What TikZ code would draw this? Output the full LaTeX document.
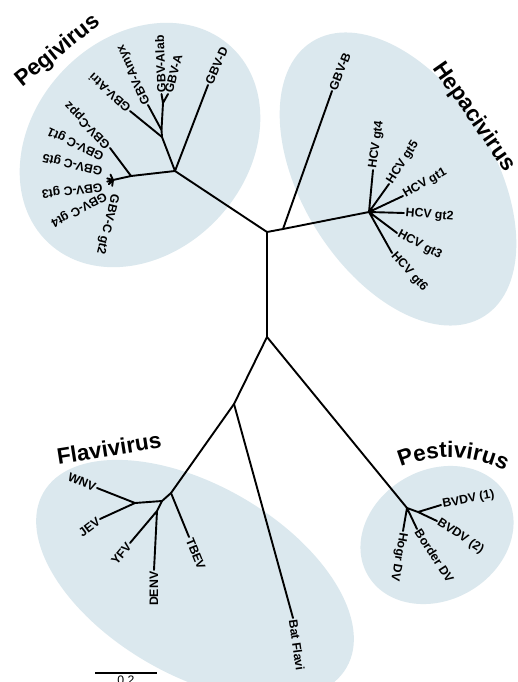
\documentclass[tikz,border=0pt]{standalone}
\usepackage{fontspec}
\setmainfont{Liberation Sans}
\usetikzlibrary{decorations.text}
\definecolor{pale}{RGB}{219,232,238}
\begin{document}
\begin{tikzpicture}[x=1pt,y=-1pt,
  br/.style={line width=1.9pt,line cap=round,line join=round},
  lab/.style={font=\bfseries\fontsize{12.3}{14}\selectfont,inner sep=1.5pt},
  labw/.style={lab,anchor=west},
  labe/.style={lab,anchor=east},
  ttl/.style={font=\bfseries\fontsize{22.5}{26}\selectfont,inner sep=0pt}]
\useasboundingbox (0,0) rectangle (518,682);
\fill[white] (0,0) rectangle (518,682);
% clade backgrounds
\fill[pale,rotate around={47:(140,145)}] (140,145) ellipse [x radius=134pt,y radius=107pt];
\fill[pale,rotate around={-58:(398,179)}] (398,179) ellipse [x radius=162pt,y radius=96pt];
\fill[pale,rotate around={-30:(195,580)}] (195,580) ellipse [x radius=175pt,y radius=95pt];
\fill[pale,rotate around={30:(437,535)}] (437,535) ellipse [x radius=80pt,y radius=65pt];
% coordinates
\coordinate (U) at (267,232);
\coordinate (L) at (267,337);
% Pegivirus
\coordinate (P) at (175,171);
\coordinate (Q1) at (162,137);
\coordinate (Q2) at (161.5,130);
\coordinate (Q3) at (163,103);
\coordinate (tAlab) at (161.5,94);
\coordinate (tA) at (168,94);
\coordinate (tAmyx) at (148,105);
\coordinate (tAtri) at (130,111);
\coordinate (tD) at (208,85);
\coordinate (C1) at (131,176);
\coordinate (Ch) at (113,180);
\coordinate (tCppz) at (110,148);
\coordinate (c1) at (110.5,174.6);
\coordinate (c2) at (107.2,178.4);
\coordinate (c3) at (107.2,181.6);
\coordinate (c4) at (108.8,184.2);
\coordinate (c5) at (112.2,185.9);
% Hepacivirus
\coordinate (H1) at (283,229);
\coordinate (tB) at (332,91);
\coordinate (Hc) at (369,212);
\coordinate (h4) at (373,170);
\coordinate (h5) at (389,184);
\coordinate (h1) at (403,196);
\coordinate (h2) at (404,213);
\coordinate (h3) at (397,233);
\coordinate (h6) at (392,253);
% Flavivirus
\coordinate (F1) at (234,404);
\coordinate (tBat) at (293,618);
\coordinate (F2) at (171,493);
\coordinate (tTBEV) at (189,537);
\coordinate (F3) at (162,501);
\coordinate (WJ) at (135,503);
\coordinate (DY) at (157,511);
\coordinate (tWNV) at (97,488);
\coordinate (tJEV) at (100,519);
\coordinate (tYFV) at (130,543);
\coordinate (tDENV) at (154,570);
% Pestivirus
\coordinate (Ph) at (407,508);
\coordinate (B12) at (418,512);
\coordinate (tBV1) at (441,505);
\coordinate (tBV2) at (437,521);
\coordinate (tBorder) at (417,529);
\coordinate (tHogr) at (403,531);
% branches
\draw[br] (P) -- (U) -- (L);
\draw[br] (U) -- (H1) -- (Hc);
\draw[br] (H1) -- (tB);
\draw[br] (Hc) -- (h4) (Hc) -- (h5) (Hc) -- (h1) (Hc) -- (h2) (Hc) -- (h3) (Hc) -- (h6);
\draw[br] (P) -- (Q1) -- (Q2) -- (Q3) -- (tAlab) (Q3) -- (tA);
\draw[br] (Q1) -- (tAtri) (Q2) -- (tAmyx) (P) -- (tD);
\draw[br] (P) -- (C1) -- (Ch) (C1) -- (tCppz);
\draw[br] (Ch) -- (c1) (Ch) -- (c2) (Ch) -- (c3) (Ch) -- (c4) (Ch) -- (c5);
\draw[br] (L) -- (F1) -- (F2) -- (F3) -- (WJ);
\draw[br] (F1) -- (tBat) (F2) -- (tTBEV);
\draw[br] (F3) -- (DY) -- (tDENV) (DY) -- (tYFV);
\draw[br] (WJ) -- (tWNV) (WJ) -- (tJEV);
\draw[br] (L) -- (Ph) -- (B12) -- (tBV1) (B12) -- (tBV2);
\draw[br] (Ph) -- (tBorder) (Ph) -- (tHogr);
% Pegivirus labels
\node[labw,rotate=66] (lD) at (tD) {GBV-D};
\node[labw,rotate=75] (lA) at (tA) {GBV-A};
\node[labw,rotate=92] (lAlab) at (tAlab) {GBV-Alab};
\node[labw,rotate=115] (lAmyx) at (tAmyx) {GBV-Amyx};
\node[labw,rotate=138] (lAtri) at (tAtri) {GBV-Atri};
\node[labw,rotate=134] (lCppz) at (tCppz) {GBV-Cppz};
\node[labw,rotate=155] (lgt1) at (105,157) {GBV-C gt1};
\node[labw,rotate=167] (lgt5) at (104,171) {GBV-C gt5};
\node[labw,rotate=187] (lgt3) at (104,186) {GBV-C gt3};
\node[labw,rotate=208] (lgt4) at (107,194) {GBV-C gt4};
\node[labw,rotate=256] (lgt2) at (115,193) {GBV-C gt2};
% Hepacivirus labels
\node[labw,rotate=68] (lB) at (tB) {GBV-B};
\node[labw,rotate=82] (lh4) at (h4) {HCV gt4};
\node[labw,rotate=57] (lh5) at (h5) {HCV gt5};
\node[labw,rotate=30] (lh1) at (h1) {HCV gt1};
\node[labw,rotate=-5] (lh2) at (h2) {HCV gt2};
\node[labw,rotate=-28] (lh3) at (h3) {HCV gt3};
\node[labw,rotate=-48] (lh6) at (h6) {HCV gt6};
% Flavivirus labels
\node[labe,rotate=-22] (lWNV) at (tWNV) {WNV};
\node[labe,rotate=37] (lJEV) at (tJEV) {JEV};
\node[labe,rotate=50] (lYFV) at (tYFV) {YFV};
\node[labe,rotate=90] (lDENV) at (tDENV) {DENV};
\node[labw,rotate=-68] (lTBEV) at (tTBEV) {TBEV};
\node[labw,rotate=-82] (lBat) at (tBat) {Bat Flavi};
% Pestivirus labels
\node[labw,rotate=11] (lBV1) at (tBV1) {BVDV (1)};
\node[labw,rotate=-33] (lBV2) at (tBV2) {BVDV (2)};
\node[labw,rotate=-57] (lBorder) at (tBorder) {Border DV};
\node[labw,rotate=-100] (lHogr) at (tHogr) {Hogr DV};
% clade titles
\node[ttl,rotate=39] (tPegi) at (58,51) {Pegivirus};
\node[ttl,rotate=-55] (tHepa) at (474,117) {Hepacivirus};
\node[ttl,rotate=9] (tFlavi) at (109,448) {Flavivirus};
\path[decorate,decoration={text along path,text align=center,
  text={|\bfseries\fontsize{22.5}{26}\selectfont|Pestivirus}}]
  (390,472) .. controls (430,452) and (476,452) .. (515,477);
% scale bar
\coordinate (s1) at (95,673);
\coordinate (s2) at (157,673);
\draw[line width=1.9pt] (s1) -- (s2);
\node[lab,anchor=north,font=\fontsize{12.3}{14}\selectfont] (sl) at (126,674) {0.2};
\end{tikzpicture}
\end{document}
